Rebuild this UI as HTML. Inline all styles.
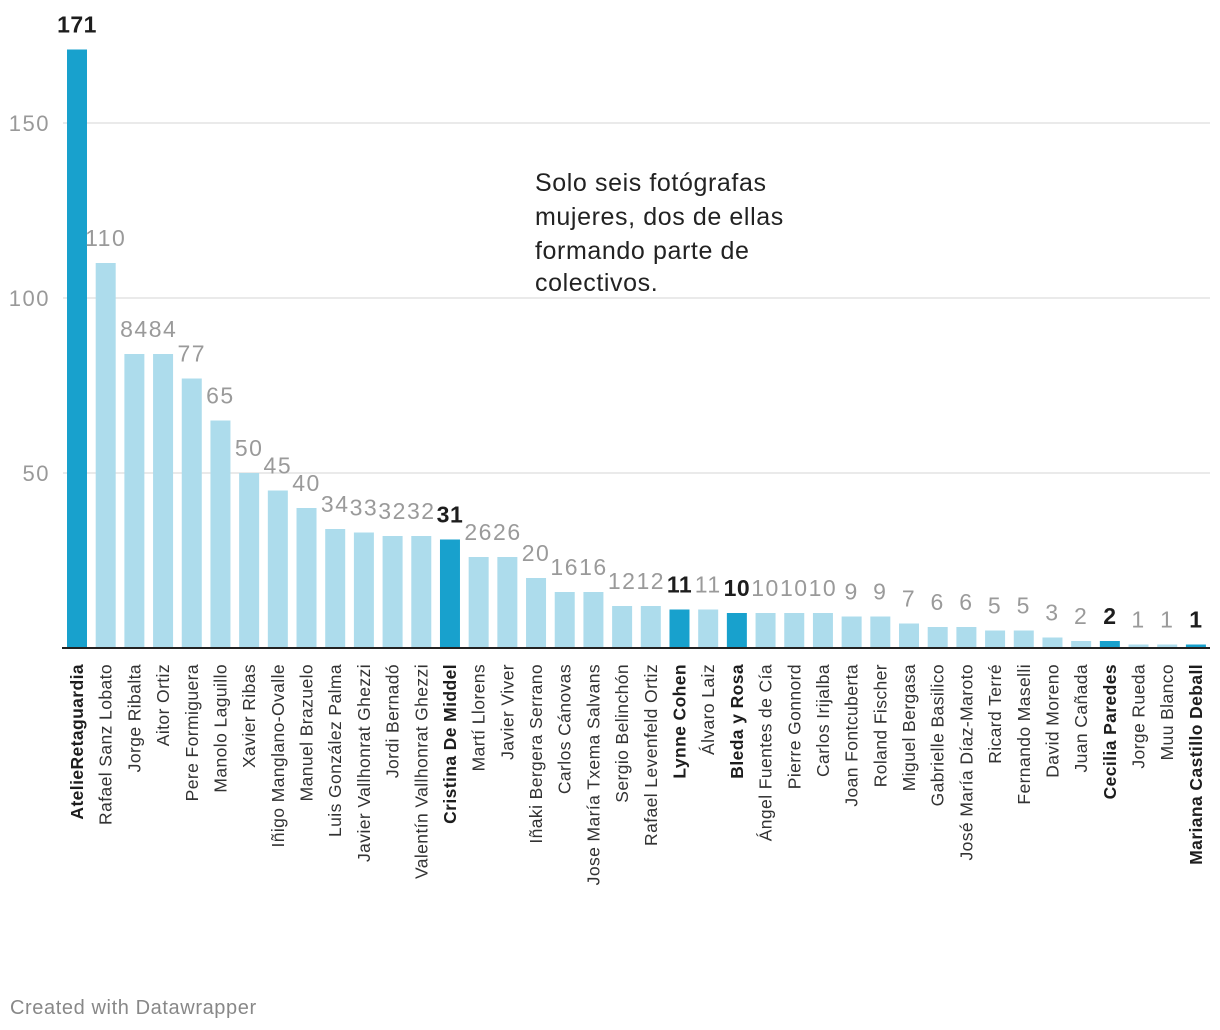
<!DOCTYPE html>
<html><head><meta charset="utf-8"><style>
body{margin:0;background:#fff;width:1220px;height:1030px;overflow:hidden;font-family:"Liberation Sans",sans-serif}
</style></head><body>
<svg id="chart" width="1220" height="1030" xmlns="http://www.w3.org/2000/svg" style="position:absolute;left:0;top:0">
<g id="grid"></g>
<g id="bars"></g>
<g id="vals"></g>
<g id="cats"></g>
<line x1="62" x2="1210" y1="648" y2="648" stroke="#222" stroke-width="2"/>
<text font-size="25" letter-spacing="0.6" fill="#222" font-family="Liberation Sans, sans-serif">
<tspan x="535" y="191">Solo seis fotógrafas</tspan>
<tspan x="535" y="225">mujeres, dos de ellas</tspan>
<tspan x="535" y="259">formando parte de</tspan>
<tspan x="535" y="291">colectivos.</tspan>
</text>
<text x="10" y="1014" font-size="20" letter-spacing="0.6" fill="#888">Created with Datawrapper</text>
</svg>
<script>
const categories=["AtelieRetaguardia","Rafael Sanz Lobato","Jorge Ribalta","Aitor Ortiz","Pere Formiguera","Manolo Laguillo","Xavier Ribas","Iñigo Manglano-Ovalle","Manuel Brazuelo","Luis González Palma","Javier Vallhonrat Ghezzi","Jordi Bernadó","Valentín Vallhonrat Ghezzi","Cristina De Middel","Martí Llorens","Javier Viver","Iñaki Bergera Serrano","Carlos Cánovas","Jose María Txema Salvans","Sergio Belinchón","Rafael Levenfeld Ortiz","Lynne Cohen","Álvaro Laiz","Bleda y Rosa","Ángel Fuentes de Cía","Pierre Gonnord","Carlos Irijalba","Joan Fontcuberta","Roland Fischer","Miguel Bergasa","Gabrielle Basilico","José María Díaz-Maroto","Ricard Terré","Fernando Maselli","David Moreno","Juan Cañada","Cecilia Paredes","Jorge Rueda","Muu Blanco","Mariana Castillo Deball"];
const values=[171,110,84,84,77,65,50,45,40,34,33,32,32,31,26,26,20,16,16,12,12,11,11,10,10,10,10,9,9,7,6,6,5,5,3,2,2,1,1,1];
const highlighted=[1,0,0,0,0,0,0,0,0,0,0,0,0,1,0,0,0,0,0,0,0,1,0,1,0,0,0,0,0,0,0,0,0,0,0,0,1,0,0,1];
const yTicks=[50,100,150];
const NS="http://www.w3.org/2000/svg";
const y=v=>648-v*3.5;
const x0=67,pitch=28.69,bw=20;
const xi=i=>x0+i*pitch;
function mk(t,a,p){const e=document.createElementNS(NS,t);for(const k in a)e.setAttribute(k,a[k]);p.appendChild(e);return e;}
const grid=document.getElementById('grid');
yTicks.forEach(t=>{
 const l=mk('line',{x1:63,x2:1210,y1:y(t),y2:y(t),stroke:'#e3e3e3','stroke-width':1.5},grid);
 
 
 const tx=mk('text',{x:50,y:y(t)+8,'text-anchor':'end','font-size':22,'letter-spacing':1.5,fill:'#999'},grid);
 tx.textContent=t;
 
 
});
const bars=document.getElementById('bars'),vals=document.getElementById('vals'),cats=document.getElementById('cats');
values.forEach((v,i)=>{
 const h=highlighted[i];
 const r=mk('rect',{x:xi(i),y:y(v),width:bw,height:648-y(v),fill:h?'#18a1cd':'#addcec'},bars);
 
 
 const cx=xi(i)+bw/2;
 const t=mk('text',{x:cx,y:y(v)-17,'text-anchor':'middle','font-size':23,'letter-spacing':h?0.5:1.5,fill:h?'#1d1d1d':'#9a9a9a','font-weight':h?'bold':'normal'},vals);
 t.textContent=v;
 
 
 const c=mk('text',{transform:`translate(${cx+6},664) rotate(-90)`,'text-anchor':'end','font-size':17.5,'letter-spacing':0.4,fill:h?'#1d1d1d':'#333','font-weight':h?'bold':'normal'},cats);
 c.textContent=categories[i];
 
 
});
</script>
</body></html>
